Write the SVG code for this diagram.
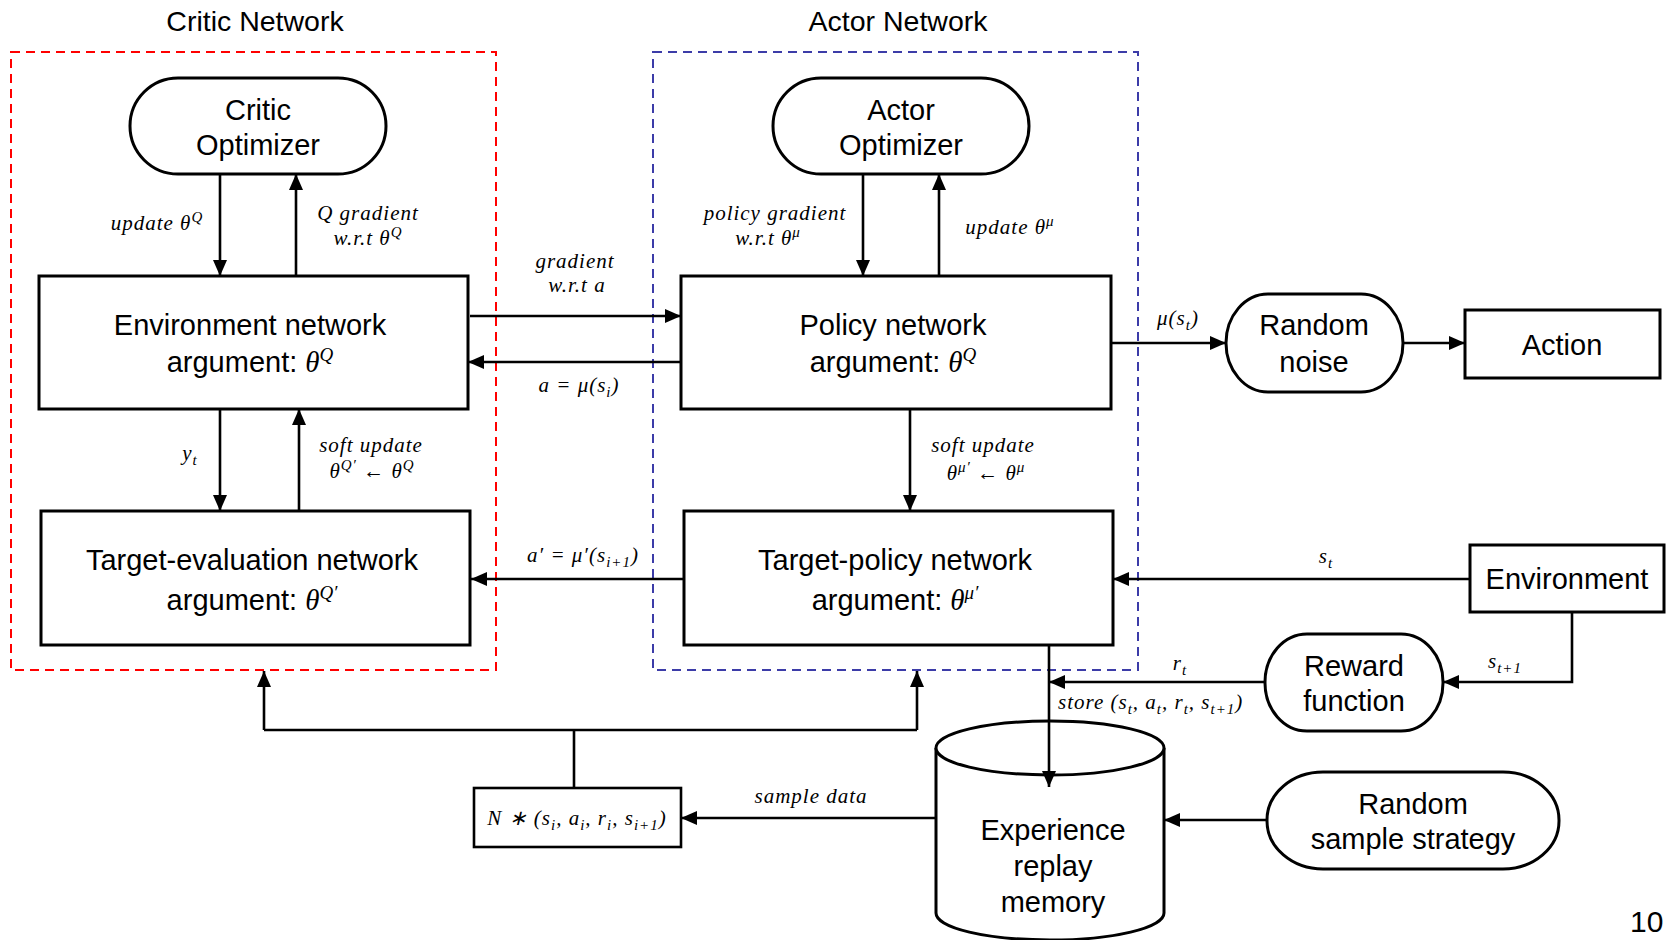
<svg xmlns="http://www.w3.org/2000/svg" width="1667" height="940" viewBox="0 0 1667 940">
<defs>
<marker id="ah" markerUnits="userSpaceOnUse" markerWidth="18" markerHeight="16" refX="16" refY="8" orient="auto">
<path d="M0,1 L16,8 L0,15 Z" fill="#000"/>
</marker>
<style>
.t{font-family:"Liberation Sans",Arial,sans-serif;font-size:29px;text-anchor:middle;fill:#000}
.ttl{font-family:"Liberation Sans",Arial,sans-serif;font-size:28.5px;text-anchor:middle;fill:#000}
.g{font-family:"Liberation Serif","Times New Roman",serif;font-style:italic}
.m{font-family:"Liberation Serif","Times New Roman",serif;font-style:italic;font-size:21px;letter-spacing:1px;text-anchor:middle;fill:#000}
.s{font-size:15px}
.box{fill:#fff;stroke:#000;stroke-width:3}
.ln{fill:none;stroke:#000;stroke-width:2.6}
.ar{fill:none;stroke:#000;stroke-width:2.6;marker-end:url(#ah)}
</style>
</defs>
<rect width="1667" height="940" fill="#fff"/>

<g id="critic-network">
<rect x="11" y="52" width="485" height="618" fill="none" stroke="#ff0000" stroke-width="2" stroke-dasharray="9,6"/>
<text class="ttl" x="255" y="31">Critic Network</text>
</g>
<g id="actor-network">
<rect x="653" y="52" width="485" height="618" fill="none" stroke="#3c3ca8" stroke-width="2" stroke-dasharray="9,6"/>
<text class="ttl" x="898" y="31">Actor Network</text>
</g>

<g id="connectors">
<path class="ar" d="M220,174 V276"/>
<path class="ar" d="M296,276 V174"/>
<path class="ar" d="M863,174 V276"/>
<path class="ar" d="M939,276 V174"/>
<path class="ar" d="M470,316 H681"/>
<path class="ar" d="M681,362 H468"/>
<path class="ar" d="M220,409 V511"/>
<path class="ar" d="M299,511 V409"/>
<path class="ar" d="M910,409 V511"/>
<path class="ar" d="M687,579 H471"/>
<path class="ar" d="M1111,343 H1226"/>
<path class="ar" d="M1403,343 H1465"/>
<path class="ar" d="M1470,579 H1113"/>
<path class="ar" d="M1572,612 V682 H1443"/>
<path class="ar" d="M1265,682 H1049"/>
<path class="ar" d="M1049,645 V787"/>
<path class="ar" d="M936,818 H681"/>
<path class="ar" d="M1267,820 H1164"/>
<path class="ln" d="M574,788 V730"/>
<path class="ln" d="M264,730 H917"/>
<path class="ar" d="M264,730 V671"/>
<path class="ar" d="M917,730 V671"/>
</g>

<g id="labels">
<text class="m" x="157" y="230">update <tspan class="g">θ</tspan><tspan class="s" dy="-8">Q</tspan></text>
<text class="m" x="368" y="220">Q gradient</text>
<text class="m" x="368" y="245">w.r.t θ<tspan class="s" dy="-8">Q</tspan></text>
<text class="m" x="575" y="268">gradient</text>
<text class="m" x="577" y="292">w.r.t a</text>
<text class="m" x="579" y="392">a = μ(s<tspan class="s" dy="5">i</tspan><tspan dy="-5">)</tspan></text>
<text class="m" x="775" y="220">policy gradient</text>
<text class="m" x="768" y="245">w.r.t θ<tspan class="s" dy="-8">μ</tspan></text>
<text class="m" x="1010" y="234">update θ<tspan class="s" dy="-8">μ</tspan></text>
<text class="m" x="1178" y="325">μ(s<tspan class="s" dy="5">t</tspan><tspan dy="-5">)</tspan></text>
<text class="m" x="190" y="460">y<tspan class="s" dy="5">t</tspan></text>
<text class="m" x="371" y="452">soft update</text>
<text class="m" x="372" y="478">θ<tspan class="s" dy="-8">Q′</tspan><tspan dy="8"> ← θ</tspan><tspan class="s" dy="-8">Q</tspan></text>
<text class="m" x="983" y="452">soft update</text>
<text class="m" x="986" y="480">θ<tspan class="s" dy="-8">μ′</tspan><tspan dy="8"> ← θ</tspan><tspan class="s" dy="-8">μ</tspan></text>
<text class="m" x="583" y="562">a′ = μ′(s<tspan class="s" dy="5">i+1</tspan><tspan dy="-5">)</tspan></text>
<text class="m" x="1326" y="563">s<tspan class="s" dy="5">t</tspan></text>
<text class="m" x="1505" y="668">s<tspan class="s" dy="5">t+1</tspan></text>
<text class="m" x="1180" y="670">r<tspan class="s" dy="5">t</tspan></text>
<text class="m" x="1058" y="709" style="text-anchor:start">store (s<tspan class="s" dy="5">t</tspan><tspan dy="-5">, a</tspan><tspan class="s" dy="5">t</tspan><tspan dy="-5">, r</tspan><tspan class="s" dy="5">t</tspan><tspan dy="-5">, s</tspan><tspan class="s" dy="5">t+1</tspan><tspan dy="-5">)</tspan></text>
<text class="m" x="811" y="803">sample data</text>
</g>

<g id="critic-optimizer">
<rect class="box" x="130" y="78" width="256" height="96" rx="48" ry="48"/>
<text class="t" x="258" y="120">Critic</text>
<text class="t" x="258" y="155">Optimizer</text>
</g>
<g id="actor-optimizer">
<rect class="box" x="773" y="78" width="256" height="96" rx="48" ry="48"/>
<text class="t" x="901" y="120">Actor</text>
<text class="t" x="901" y="155">Optimizer</text>
</g>
<g id="environment-network">
<rect class="box" x="39" y="276" width="429" height="133"/>
<text class="t" x="250" y="335">Environment network</text>
<text class="t" x="250" y="372">argument: <tspan class="g">θ</tspan><tspan class="g" style="font-size:19px" dy="-11">Q</tspan></text>
</g>
<g id="policy-network">
<rect class="box" x="681" y="276" width="430" height="133"/>
<text class="t" x="893" y="335">Policy network</text>
<text class="t" x="893" y="372">argument: <tspan class="g">θ</tspan><tspan class="g" style="font-size:19px" dy="-11">Q</tspan></text>
</g>
<g id="target-evaluation-network">
<rect class="box" x="41" y="511" width="429" height="134"/>
<text class="t" x="252" y="570">Target-evaluation network</text>
<text class="t" x="252" y="610">argument: <tspan class="g">θ</tspan><tspan class="g" style="font-size:19px" dy="-11">Q′</tspan></text>
</g>
<g id="target-policy-network">
<rect class="box" x="684" y="511" width="429" height="134"/>
<text class="t" x="895" y="570">Target-policy network</text>
<text class="t" x="895" y="610">argument: <tspan class="g">θ</tspan><tspan class="g" style="font-size:19px" dy="-11">μ′</tspan></text>
</g>
<g id="random-noise">
<rect class="box" x="1226" y="294" width="177" height="98" rx="42" ry="49"/>
<text class="t" x="1314" y="335">Random</text>
<text class="t" x="1314" y="372">noise</text>
</g>
<g id="action">
<rect class="box" x="1465" y="310" width="195" height="68"/>
<text class="t" x="1562" y="355">Action</text>
</g>
<g id="environment">
<rect class="box" x="1470" y="545" width="194" height="67"/>
<text class="t" x="1567" y="589">Environment</text>
</g>
<g id="reward-function">
<rect class="box" x="1265" y="634" width="178" height="97" rx="42" ry="48"/>
<text class="t" x="1354" y="676">Reward</text>
<text class="t" x="1354" y="711">function</text>
</g>
<g id="random-sample-strategy">
<rect class="box" x="1267" y="772" width="292" height="97" rx="56" ry="48"/>
<text class="t" x="1413" y="814">Random</text>
<text class="t" x="1413" y="849">sample strategy</text>
</g>
<g id="experience-replay-memory">
<path class="box" d="M936,748 V913 A114,27 0 0 0 1164,913 V748"/>
<ellipse class="box" cx="1050" cy="748" rx="114" ry="27"/>
<path class="ar" d="M1049,721 V787"/>
<text class="t" x="1053" y="840">Experience</text>
<text class="t" x="1053" y="876">replay</text>
<text class="t" x="1053" y="912">memory</text>
</g>
<g id="sample-batch">
<rect x="474" y="788" width="207" height="59" fill="#fff" stroke="#000" stroke-width="2.6"/>
<text class="m" x="577" y="825">N ∗ (s<tspan class="s" dy="5">i</tspan><tspan dy="-5">, a</tspan><tspan class="s" dy="5">i</tspan><tspan dy="-5">, r</tspan><tspan class="s" dy="5">i</tspan><tspan dy="-5">, s</tspan><tspan class="s" dy="5">i+1</tspan><tspan dy="-5">)</tspan></text>
</g>
<text class="ttl" x="1630" y="932" style="text-anchor:start;font-size:30px">10</text>
</svg>
